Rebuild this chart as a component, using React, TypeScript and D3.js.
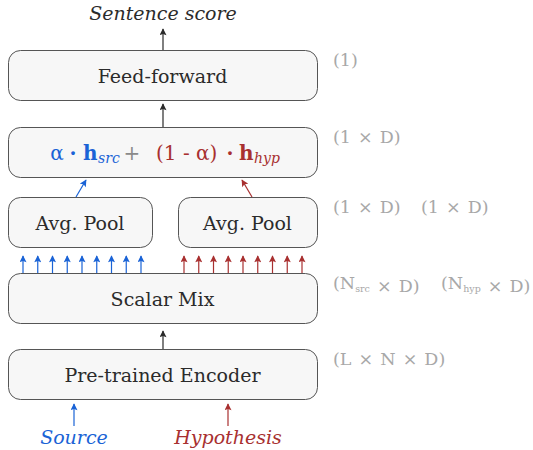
import * as d3 from "d3";

// Diagram content
const BOX_LABELS = ["Feed-forward", "", "Avg. Pool", "Avg. Pool", "Scalar Mix", "Pre-trained Encoder"];
const SHAPE_LABELS = [
  ["(1)"],
  ["(1 × D)"],
  ["(1 × D)", "(1 × D)"],
  ["(N|src × D)", "(N|hyp × D)"],
  ["(L × N × D)"],
];
const SRC_TOKENS = d3.range(9);
const HYP_TOKENS = d3.range(9);
const OUTPUT_LABEL = "Sentence score";
const INPUT_LABELS = ["Source", "Hypothesis"];

// Layout
const W = 533;
const H = 450;
const ROW_TOP = [50, 127, 197, 273, 349];
const BOX_H = 50;
const LEFT = 8;
const RIGHT = 317;
const MID = 163;
const SHAPE_X = [333, 421, 421, 441, 421];
const BLUE = "#1a63d6";
const RED = "#a83030";
const GREY = "#a8a8a8";
const INK = "#2b2b2b";
const FONT = "'DejaVu Serif', serif";

const BOXES = [
  { x0: LEFT, x1: RIGHT, row: 0 },
  { x0: LEFT, x1: RIGHT, row: 1 },
  { x0: LEFT, x1: 152, row: 2 },
  { x0: 178, x1: RIGHT, row: 2 },
  { x0: LEFT, x1: RIGHT, row: 3 },
  { x0: LEFT, x1: RIGHT, row: 4 },
];

// Formula pieces: text, colour, style, anchor x
const FORMULA = [
  { t: "α", c: BLUE, x: 57, a: "middle" },
  { t: "·", c: BLUE, x: 73, a: "middle", b: true },
  { t: "h", c: BLUE, x: 83, b: true },
  { t: "src", c: BLUE, x: 98, sub: true },
  { t: "+", c: "#8a8a8a", x: 132, a: "middle" },
  { t: "(1 - α)", c: RED, x: 156 },
  { t: "·", c: RED, x: 230, a: "middle", b: true },
  { t: "h", c: RED, x: 239, b: true },
  { t: "hyp", c: RED, x: 254, sub: true },
];

const srcX = d3.scalePoint<number>().domain(SRC_TOKENS).range([23, 141]);
const hypX = d3.scalePoint<number>().domain(HYP_TOKENS).range([184, 302]);

const Arrow = ({ x1, y1, x2, y2, color }: { x1: number; y1: number; x2: number; y2: number; color: string }) => {
  const id = color === BLUE ? "ab" : color === RED ? "ar" : "ak";
  return <line x1={x1} y1={y1} x2={x2} y2={y2} stroke={color} strokeWidth={1.2} markerEnd={`url(#${id})`} />;
};

// "N|src" means N with subscript src; " × " gets a little extra room
const ShapeLabel = ({ x, y, text }: { x: number; y: number; text: string }) => {
  const parts = text.split(" × ");
  return (
    <text x={x} y={y} fill={GREY} fontSize={17.5} fontFamily={FONT}>
      {parts.map((p, i) => {
        const [base, sub] = p.split("|");
        return (
          <tspan key={i}>
            {i > 0 && <tspan dx={1.5}> × </tspan>}
            <tspan dx={i > 0 ? 1.5 : 0}>{base}</tspan>
            {sub && (
              <>
                <tspan fontSize={9.5} dy={3}>{sub}</tspan>
                <tspan dy={-3}></tspan>
              </>
            )}
          </tspan>
        );
      })}
    </text>
  );
};

export default function App() {
  const boxY = (r: number) => ROW_TOP[r];
  return (
    <svg width={W} height={H} style={{ position: "absolute", left: 0, top: 0 }}>
      <defs>
        {[
          ["ak", INK],
          ["ab", BLUE],
          ["ar", RED],
        ].map(([id, c]) => (
          <marker key={id} id={id} viewBox="0 0 10 10" refX={9} refY={5} markerWidth={8} markerHeight={7} markerUnits="userSpaceOnUse" orient="auto">
            <path d="M0,0 L10,5 L0,10 L2,5 Z" fill={c} />
          </marker>
        ))}
      </defs>
      <rect width={W} height={H} fill="white" />

      {/* Boxes */}
      {BOXES.map((b, i) => (
        <g key={i}>
          <rect x={b.x0 + 0.5} y={boxY(b.row) + 0.5} width={b.x1 - b.x0} height={BOX_H} rx={12} fill="#f7f7f7" stroke="#555" strokeWidth={1} />
          {BOX_LABELS[i] && (
            <text x={(b.x0 + b.x1) / 2} y={boxY(b.row) + 33} textAnchor="middle" fontSize={19} fill={INK} fontFamily={FONT}>
              {BOX_LABELS[i]}
            </text>
          )}
        </g>
      ))}

      {/* Weighted sum formula */}
      <g fontFamily={FONT}>
        {FORMULA.map((p, i) => (
          <text
            key={i}
            x={p.x}
            y={ROW_TOP[1] + 33 + (p.sub ? 3 : 0)}
            fill={p.c}
            textAnchor={p.a ?? "start"}
            fontWeight={p.b ? "bold" : "normal"}
            fontStyle={p.sub ? "italic" : "normal"}
            fontSize={p.sub ? 14 : 20}
          >
            {p.t}
          </text>
        ))}
      </g>

      {/* Main flow arrows */}
      <Arrow x1={MID} y1={ROW_TOP[0]} x2={MID} y2={29} color={INK} />
      <Arrow x1={MID} y1={ROW_TOP[1]} x2={MID} y2={104} color={INK} />
      <Arrow x1={MID} y1={ROW_TOP[4]} x2={MID} y2={331} color={INK} />
      <Arrow x1={76} y1={ROW_TOP[2]} x2={86} y2={180} color={BLUE} />
      <Arrow x1={252} y1={ROW_TOP[2]} x2={242} y2={180} color={RED} />

      {/* Token arrows */}
      {SRC_TOKENS.map((t) => (
        <Arrow key={"s" + t} x1={srcX(t)!} y1={ROW_TOP[3]} x2={srcX(t)!} y2={256} color={BLUE} />
      ))}
      {HYP_TOKENS.map((t) => (
        <Arrow key={"h" + t} x1={hypX(t)!} y1={ROW_TOP[3]} x2={hypX(t)!} y2={256} color={RED} />
      ))}

      {/* Inputs */}
      <Arrow x1={74} y1={426} x2={74} y2={404} color={BLUE} />
      <Arrow x1={228} y1={426} x2={228} y2={404} color={RED} />
      <text x={74} y={444} textAnchor="middle" fontStyle="italic" fontSize={19} fill={BLUE} fontFamily={FONT}>
        {INPUT_LABELS[0]}
      </text>
      <text x={228} y={444} textAnchor="middle" fontStyle="italic" fontSize={19} fill={RED} fontFamily={FONT}>
        {INPUT_LABELS[1]}
      </text>
      <text x={MID} y={20} textAnchor="middle" fontStyle="italic" fontSize={19} fill={INK} fontFamily={FONT}>
        {OUTPUT_LABEL}
      </text>

      {/* Tensor shapes */}
      {SHAPE_LABELS.map((labels, r) =>
        labels.map((l, j) => (
          <ShapeLabel key={r + "-" + j} x={j === 0 ? 333 : SHAPE_X[r]} y={ROW_TOP[r] + 16} text={l} />
        ))
      )}
    </svg>
  );
}
